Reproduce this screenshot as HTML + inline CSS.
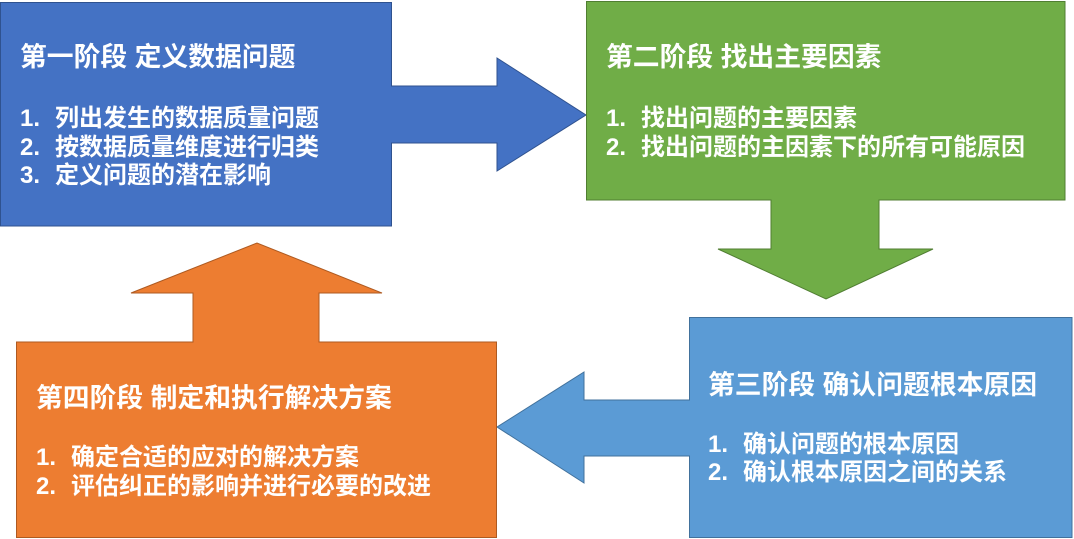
<!DOCTYPE html>
<html>
<head>
<meta charset="utf-8">
<style>
  html, body { margin:0; padding:0; background:#fff; }
  #wrap { position:relative; width:1074px; height:539px; overflow:hidden; background:#fff; }
  svg { position:absolute; left:0; top:0; }
  .t { position:absolute; color:#fff; font-weight:bold; white-space:nowrap;
       font-family:"Liberation Sans","Noto Sans CJK SC","WenQuanYi Zen Hei",sans-serif; }
  .h { font-size:26.8px; line-height:26.8px; }
  .l { font-size:24px; line-height:24px; }
</style>
</head>
<body>
<div id="wrap">
<svg width="1074" height="539" viewBox="0 0 1074 539">
  <!-- Blue box + arrow -->
  <rect x="0.5" y="2.5" width="391" height="223.5" fill="#4472C4" stroke="#2F528F" stroke-width="1"/>
  <polygon points="391,86 497,86 497,58 586,115 497,171 497,143 391,143" fill="#4472C4" stroke="#2F528F" stroke-width="1"/>
  <rect x="1" y="3" width="390" height="222.5" fill="#4472C4"/>
  <polygon points="388,86.5 392,86.5 392,142.5 388,142.5" fill="#4472C4"/>

  <!-- Green box + arrow -->
  <polygon points="771,199 771,249 718,249 826,299 933,249 879,249 879,199" fill="#70AD47" stroke="#507E32" stroke-width="1"/>
  <rect x="586.5" y="1.5" width="478.5" height="198.5" fill="#70AD47" stroke="#507E32" stroke-width="1"/>
  <rect x="771.5" y="198" width="107" height="4" fill="#70AD47"/>

  <!-- Light blue box + arrow -->
  <polygon points="690,400 584,400 584,372 497,427 584,483 584,456 690,456" fill="#5B9BD5" stroke="#41719C" stroke-width="1"/>
  <rect x="689.5" y="317.5" width="382.5" height="220" fill="#5B9BD5" stroke="#41719C" stroke-width="1"/>
  <rect x="687" y="400.5" width="4" height="55" fill="#5B9BD5"/>

  <!-- Orange box + arrow -->
  <polygon points="193,343 193,293 131,293 257,243 382,293 319,293 319,343" fill="#ED7D31" stroke="#AE5A21" stroke-width="1"/>
  <rect x="16.5" y="342" width="480" height="195.5" fill="#ED7D31" stroke="#AE5A21" stroke-width="1"/>
  <rect x="193.5" y="340" width="125" height="4" fill="#ED7D31"/>
</svg>

<!-- Stage 1 -->
<div class="t h" style="left:20px;top:43.5px;">第一阶段 定义数据问题</div>
<div class="t l" style="left:20px;top:107px;">1.</div><div class="t l" style="left:55px;top:107px;">列出发生的数据质量问题</div>
<div class="t l" style="left:20px;top:135.5px;">2.</div><div class="t l" style="left:55px;top:135.5px;">按数据质量维度进行归类</div>
<div class="t l" style="left:20px;top:164px;">3.</div><div class="t l" style="left:55px;top:164px;">定义问题的潜在影响</div>

<!-- Stage 2 -->
<div class="t h" style="left:606px;top:43.5px;">第二阶段 找出主要因素</div>
<div class="t l" style="left:606px;top:107px;">1.</div><div class="t l" style="left:641px;top:107px;">找出问题的主要因素</div>
<div class="t l" style="left:606px;top:136px;">2.</div><div class="t l" style="left:641px;top:136px;">找出问题的主因素下的所有可能原因</div>

<!-- Stage 3 -->
<div class="t h" style="left:708px;top:371.5px;">第三阶段 确认问题根本原因</div>
<div class="t l" style="left:708px;top:433px;">1.</div><div class="t l" style="left:743px;top:433px;">确认问题的根本原因</div>
<div class="t l" style="left:708px;top:461px;">2.</div><div class="t l" style="left:743px;top:461px;">确认根本原因之间的关系</div>

<!-- Stage 4 -->
<div class="t h" style="left:36px;top:384.5px;">第四阶段 制定和执行解决方案</div>
<div class="t l" style="left:36px;top:446px;">1.</div><div class="t l" style="left:71px;top:446px;">确定合适的应对的解决方案</div>
<div class="t l" style="left:36px;top:475px;">2.</div><div class="t l" style="left:71px;top:475px;">评估纠正的影响并进行必要的改进</div>
</div>
</body>
</html>
